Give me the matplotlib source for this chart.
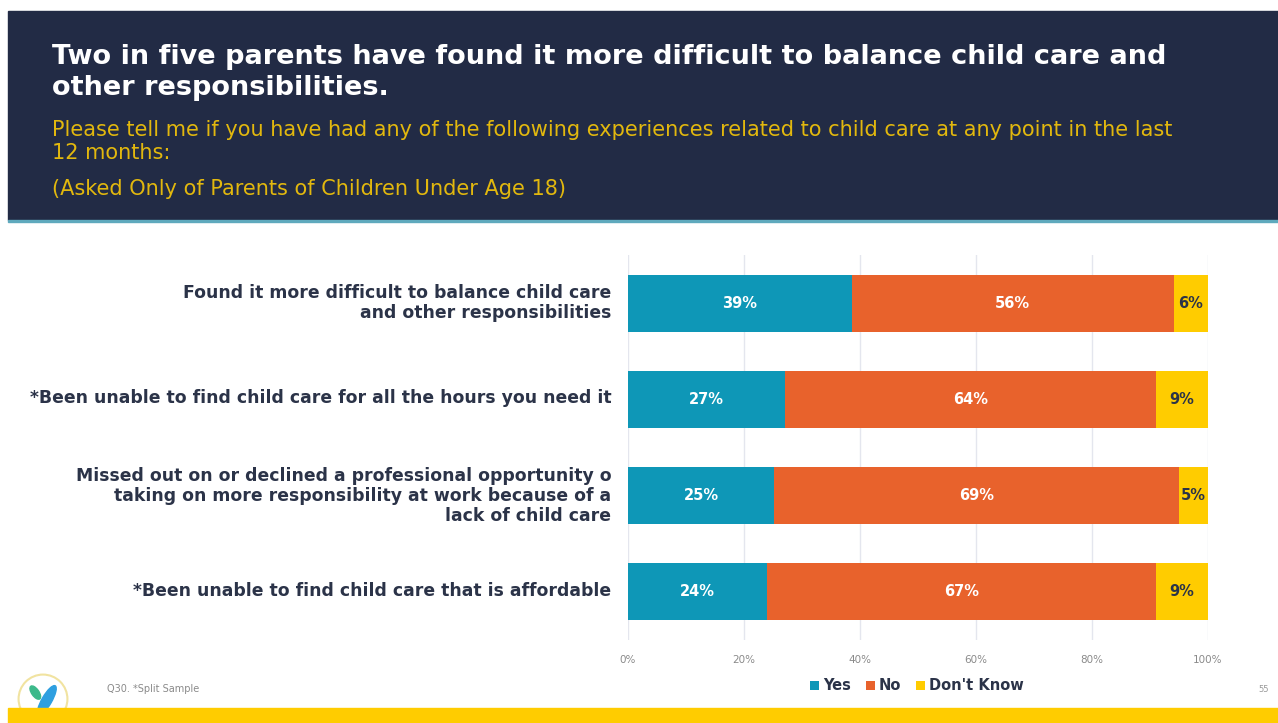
import numpy as np
import matplotlib.pyplot as plt
import matplotlib.transforms as mtransforms
from matplotlib.patches import Rectangle, Circle, Ellipse

categories = [
    "Found it more difficult to balance child care\nand other responsibilities",
    "*Been unable to find child care for all the hours you need it",
    "Missed out on or declined a professional opportunity o\ntaking on more responsibility at work because of a\nlack of child care",
    "*Been unable to find child care that is affordable",
]
yes = [39, 27, 25, 24]
no = [56, 64, 69, 67]
dont_know = [6, 9, 5, 9]
series_names = ["Yes", "No", "Don't Know"]
xticks = [0, 20, 40, 60, 80, 100]
xtick_labels = ["0%", "20%", "40%", "60%", "80%", "100%"]

NAVY = "#222b45"
TEXT = "#2b3348"
TEAL = "#0e97b7"
ORANGE = "#e8622c"
YELLOW = "#ffcc00"
GOLD = "#e2b80e"
colors = [TEAL, ORANGE, YELLOW]

plt.rcParams['font.family'] = ['DejaVu Sans']

W, H = 1278, 723
fig = plt.figure(figsize=(W / 100, H / 100), dpi=100)

# header band
fig.patches.append(Rectangle((8 / W, 1 - 220 / H), 1 - 8 / W, 209 / H,
                             transform=fig.transFigure, color=NAVY, zorder=0))
fig.patches.append(Rectangle((8 / W, 1 - 222 / H), 1 - 8 / W, 2.5 / H,
                             transform=fig.transFigure, color="#5fa9bd", zorder=0))
# footer band
fig.patches.append(Rectangle((8 / W, 0), 1 - 8 / W, 15 / H,
                             transform=fig.transFigure, color=YELLOW, zorder=0))

fig.text(52 / W, 1 - 57 / H,
         "Two in five parents have found it more difficult to balance child care and",
         color="white", fontsize=19.5, fontweight="bold", va="center")
fig.text(52 / W, 1 - 88 / H, "other responsibilities.",
         color="white", fontsize=19.5, fontweight="bold", va="center")
fig.text(52 / W, 1 - 130 / H,
         "Please tell me if you have had any of the following experiences related to child care at any point in the last",
         color=GOLD, fontsize=15, va="center")
fig.text(52 / W, 1 - 153 / H, "12 months:", color=GOLD, fontsize=15, va="center")
fig.text(52 / W, 1 - 189 / H, "(Asked Only of Parents of Children Under Age 18)",
         color=GOLD, fontsize=15, va="center")

ax = fig.add_axes([628 / W, 1 - 640 / H, 580 / W, 385 / H])

y = np.arange(len(categories))
data = np.array([yes, no, dont_know], dtype=float)
totals = data.sum(axis=0)
shares = data / totals * 100
left = np.zeros(len(categories))
for i, name in enumerate(series_names):
    ax.barh(y, shares[i], left=left, height=0.59, color=colors[i],
            label=name, zorder=3)
    for j in range(len(categories)):
        cx = left[j] + shares[i][j] / 2
        tc = TEXT if i == 2 else "white"
        ax.text(cx, y[j], f"{data[i][j]:.0f}%", ha="center", va="center",
                color=tc, fontsize=10.5, fontweight="bold", zorder=4)
    left += shares[i]

ax.set_xlim(0, 100)
ax.set_ylim(len(categories) - 0.5, -0.5)
ax.set_xticks(xticks)
ax.set_xticklabels(xtick_labels, color="#8a8a8a", fontsize=7.5)
ax.set_yticks(y)
ax.set_yticklabels(categories, color=TEXT, fontsize=12.4, fontweight="bold",
                   linespacing=1.15)
ax.tick_params(axis="x", length=0, pad=11)
ax.tick_params(axis="y", length=0, pad=12)
# category labels sit a little above the bar centres
lift = mtransforms.ScaledTranslation(0, 3 / 100, fig.dpi_scale_trans)
for lbl in ax.get_yticklabels():
    lbl.set_transform(lbl.get_transform() + lift)
for s in ax.spines.values():
    s.set_visible(False)
ax.grid(axis="x", color="#e4e6ee", linewidth=1, zorder=0)
ax.set_axisbelow(True)

handles, labels = ax.get_legend_handles_labels()
leg = fig.legend(handles, labels, loc="center", ncol=3,
                 bbox_to_anchor=(917 / W, 1 - 686 / H), frameon=False,
                 handlelength=0.6, handleheight=0.6, handletextpad=0.3,
                 columnspacing=1.0, prop={"weight": "bold", "size": 10.5})
for t in leg.get_texts():
    t.set_color(TEXT)

fig.text(107 / W, 1 - 689 / H, "Q30. *Split Sample", color="#8a8a8a",
         fontsize=7, va="center")
fig.text(1258 / W, 1 - 690 / H, "55", color="#999999", fontsize=6, va="center")

# logo
lax = fig.add_axes([16 / W, 1 - 726 / H, 54 / W, 54 / H])
lax.set_xlim(-1.05, 1.05)
lax.set_ylim(-1.05, 1.05)
lax.set_aspect("equal")
lax.axis("off")
lax.add_patch(Circle((0, 0), 0.95, facecolor="white", edgecolor="#f1e3a0",
                     linewidth=1.5))
lax.add_patch(Ellipse((-0.3, 0.25), 0.28, 0.6, angle=35, color="#3cb98a"))
lax.add_patch(Ellipse((0.15, -0.05), 0.38, 1.3, angle=-30, color="#2e9fe0"))

fig.savefig("out.png", dpi=100)
